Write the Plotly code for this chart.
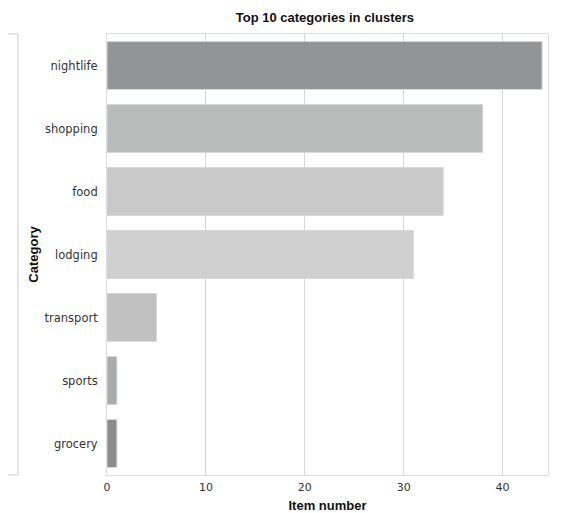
import plotly.graph_objects as go

categories = ["nightlife", "shopping", "food", "lodging", "transport", "sports", "grocery"]
counts = [44, 38, 34, 31, 5, 1, 1]
bar_colors = ["#939495", "#b9baba", "#c9c9c9", "#d0d0d0", "#c1c1c1", "#aaabab", "#8b8c8d"]
x_ticks = [0, 10, 20, 30, 40]

fig = go.Figure(go.Bar(
    x=counts, y=categories, orientation="h",
    marker=dict(color=bar_colors, line=dict(color="#d8d8d8", width=1)),
    width=0.76,
))

fig.update_layout(
    width=555, height=505,
    margin=dict(l=99, r=15, t=26, b=38, autoexpand=False),
    paper_bgcolor="white", plot_bgcolor="white",
    font=dict(family="DejaVu Sans, sans-serif", size=12, color="#333333"),
    title=dict(text="<b>Top 10 categories in clusters</b>", x=0.571, xanchor="center",
               yref="container", y=0.982, yanchor="middle",
               font=dict(family="Liberation Sans, Arial, sans-serif", size=13, color="#111111")),
    showlegend=False,
)
fig.update_xaxes(
    range=[0, 44.6], tickvals=x_ticks, showgrid=True, gridcolor="#d6d6d6", gridwidth=1,
    zeroline=False, showline=True, linecolor="#dddddd", mirror=True,
    ticks="", ticklen=0, tickfont=dict(size=11, color="#333333"), ticklabelstandoff=2,
    title=dict(text="<b>Item number</b>",
               font=dict(family="Liberation Sans, Arial, sans-serif", size=13, color="#111111"),
               standoff=9),
)
fig.update_yaxes(
    categoryorder="array", categoryarray=categories, autorange="reversed",
    showgrid=False, showline=True, linecolor="#dddddd", mirror=True, ticks="",
    tickfont=dict(size=11.5, color="#333333"), ticklabelstandoff=6,
    title=dict(text="<b>Category</b>",
               font=dict(family="Liberation Sans, Arial, sans-serif", size=13, color="#111111"),
               standoff=3),
)
# left bracket
fig.add_shape(type="line", xref="paper", yref="paper", x0=-0.2018, x1=-0.2018, y0=0, y1=1,
              line=dict(color="#cccccc", width=1))
fig.add_shape(type="line", xref="paper", yref="paper", x0=-0.2018, x1=-0.2245, y0=1, y1=1,
              line=dict(color="#cccccc", width=1))
fig.add_shape(type="line", xref="paper", yref="paper", x0=-0.2018, x1=-0.2245, y0=0, y1=0,
              line=dict(color="#cccccc", width=1))

fig.write_html("out.html")
